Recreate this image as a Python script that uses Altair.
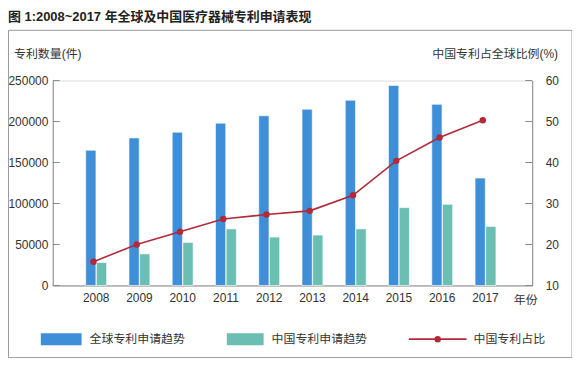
import altair as alt
import pandas as pd

years = ["2008", "2009", "2010", "2011", "2012", "2013", "2014", "2015", "2016", "2017"]
global_apps = [165000, 180000, 187000, 198000, 207000, 215000, 226000, 244000, 221000, 131000]
china_apps = [28000, 38500, 52500, 69000, 59000, 61500, 69000, 95000, 99000, 72000]
china_share = [15.8, 20.0, 23.1, 26.2, 27.3, 28.2, 32.0, 40.4, 46.1, 50.3]
series = ["全球专利申请趋势", "中国专利申请趋势"]
line_label = "中国专利占比"
left_ticks = [0, 50000, 100000, 150000, 200000, 250000]
right_ticks = [10, 20, 30, 40, 50, 60]

BLUE = "#3f8fd8"
TEAL = "#6bbfb2"
RED = "#b02a3a"
FONT = "Liberation Sans, Noto Sans CJK SC"
TXT = "#333333"
AX = "#8a8a8a"

bars_df = pd.DataFrame(
    [{"year": y, "series": series[0], "value": v} for y, v in zip(years, global_apps)]
    + [{"year": y, "series": series[1], "value": v} for y, v in zip(years, china_apps)]
)
line_df = pd.DataFrame({"year": years, "share": china_share})
lt_df = pd.DataFrame({"t": left_ticks})
rt_df = pd.DataFrame({"t": right_ticks})

xscale = alt.Scale(domain=years, paddingInner=0.517, paddingOuter=0.80, align=0.476)
xaxis = alt.Axis(
    title="年份", titleX=475, titleY=14, titleAlign="center", titleBaseline="middle",
    titleFontWeight="normal", titleFontSize=12, titleColor=TXT, titleFont=FONT,
    labelAngle=0, ticks=False, tickSize=0, labelPadding=7, labelFontSize=12,
    labelColor=TXT, labelFont=FONT, domainColor=AX,
)
lscale = alt.Scale(domain=[0, 250000], nice=False, zero=True)
laxis = alt.Axis(
    title=None, values=left_ticks, format="d", ticks=False, tickSize=0, labelPadding=5,
    labelFontSize=12, labelColor=TXT, labelFont=FONT, domainColor=AX, grid=False,
)
rscale = alt.Scale(domain=[10, 60], nice=False, zero=False)
raxis = alt.Axis(
    title=None, orient="right", values=right_ticks, ticks=False, tickSize=0, labelPadding=13,
    labelFontSize=12, labelColor=TXT, labelFont=FONT, domainColor=AX, grid=False,
)

bars = alt.Chart(bars_df).mark_bar(stroke="white", strokeWidth=0.6).encode(
    x=alt.X("year:O", scale=xscale, axis=xaxis),
    xOffset=alt.XOffset("series:N", sort=series, scale=alt.Scale(paddingInner=0.04)),
    y=alt.Y("value:Q", scale=lscale, axis=laxis),
    color=alt.Color("series:N", sort=series, scale=alt.Scale(domain=series, range=[BLUE, TEAL]), legend=None),
)
lticks = alt.Chart(lt_df).mark_rule(color=AX, strokeWidth=1).encode(
    x=alt.value(0), x2=alt.value(7),
    y=alt.Y("t:Q", scale=lscale, axis=laxis),
)
left = alt.layer(bars, lticks)

line = alt.Chart(line_df).mark_line(color=RED, strokeWidth=1.6).encode(
    x=alt.X("year:O", scale=xscale, axis=xaxis, bandPosition=0.37),
    y=alt.Y("share:Q", scale=rscale, axis=raxis),
)
pts = alt.Chart(line_df).mark_circle(color=RED, size=42, opacity=1).encode(
    x=alt.X("year:O", scale=xscale, axis=xaxis, bandPosition=0.37),
    y=alt.Y("share:Q", scale=rscale, axis=raxis),
)
rticks = alt.Chart(rt_df).mark_rule(color=AX, strokeWidth=1).encode(
    x=alt.value(475), x2=alt.value(482),
    y=alt.Y("t:Q", scale=rscale, axis=raxis),
)
right = alt.layer(line, pts, rticks)

one = pd.DataFrame({"k": [0]})


def txt(text, x, y, align="left", size=12, weight="normal", color=TXT):
    return alt.Chart(one).mark_text(
        text=text, align=align, baseline="middle", fontSize=size, fontWeight=weight,
        color=color, font=FONT,
    ).encode(x=alt.value(x), y=alt.value(y))


def box(x, x2, y, y2, color):
    return alt.Chart(one).mark_rect(color=color).encode(
        x=alt.value(x), x2=alt.value(x2), y=alt.value(y), y2=alt.value(y2)
    )


border = alt.Chart(one).mark_rect(fillOpacity=0, stroke="#9a9a9a", strokeWidth=1).encode(
    x=alt.value(-44.5), x2=alt.value(522), y=alt.value(-50.5), y2=alt.value(278.5)
)

title = txt("图 1:2008~2017 年全球及中国医疗器械专利申请表现", -45, -64, size=13, weight="bold", color="#222222")
ltitle = txt("专利数量(件)", -39, -27)
rtitle = txt("中国专利占全球比例(%)", 508, -27, align="right")

leg_blue = box(-12, 29, 254, 266, BLUE)
leg_blue_t = txt(series[0], 37, 260)
leg_teal = box(175, 212, 254, 266, TEAL)
leg_teal_t = txt(series[1], 220, 260)
leg_line = alt.Chart(one).mark_rule(color=RED, strokeWidth=1.6).encode(
    x=alt.value(358), x2=alt.value(416), y=alt.value(260)
)
leg_dot = alt.Chart(one).mark_circle(color=RED, size=42, opacity=1).encode(
    x=alt.value(387), y=alt.value(260)
)
leg_line_t = txt(line_label, 423, 260)

chart = alt.layer(
    left, right, border, title, ltitle, rtitle,
    leg_blue, leg_blue_t, leg_teal, leg_teal_t, leg_line, leg_dot, leg_line_t,
).resolve_scale(y="independent").properties(
    width=482, height=206,
    autosize=alt.AutoSizeParams(type="none"),
    padding={"left": 45, "top": 72, "right": 40, "bottom": 72},
).configure_view(stroke=None).configure(background="white")

chart.save("out.html", embed_options={"renderer": "svg", "actions": False})
